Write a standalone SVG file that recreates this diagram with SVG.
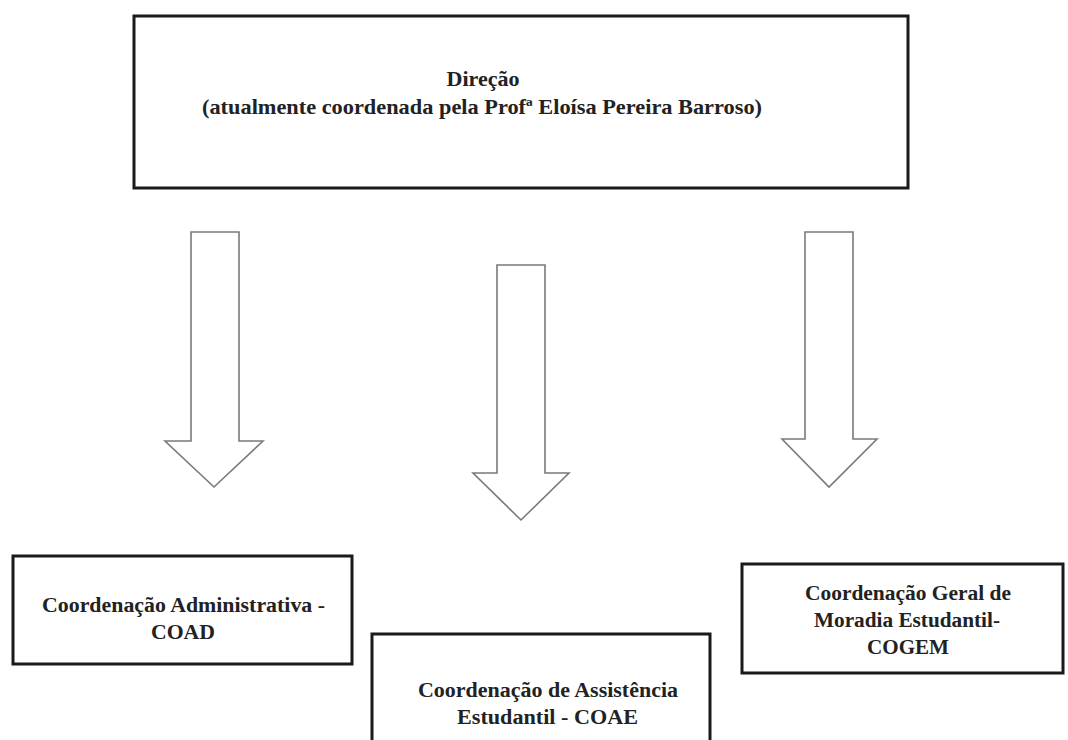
<svg xmlns="http://www.w3.org/2000/svg" width="1068" height="740" viewBox="0 0 1068 740">
<style>
.box{fill:#fff;stroke:#1a1a1a;stroke-width:3}
.arrow{fill:#fff;stroke:#7a7a7a;stroke-width:1.6;stroke-linejoin:miter}
text{font-family:"Liberation Serif","Times New Roman",serif;font-weight:bold;fill:#222;text-anchor:middle}
.t1{font-size:21px}
.t2{font-size:20px}
</style>
<rect width="1068" height="740" fill="#fff"/>
<g id="direcao">
<rect class="box" x="134" y="16" width="774" height="172"/>
<text class="t1" x="483" y="86" textLength="73" lengthAdjust="spacingAndGlyphs">Direção</text>
<text class="t1" x="482" y="114" textLength="560" lengthAdjust="spacingAndGlyphs">(atualmente coordenada pela Profª Eloísa Pereira Barroso)</text>
</g>
<g id="connectors">
<polygon class="arrow" points="191,232 239,232 239,441 263,441 214,487 165,441 191,441"/>
<polygon class="arrow" points="497,265 545,265 545,473 569,473 521,520 473,473 497,473"/>
<polygon class="arrow" points="805,232 853,232 853,439 877,439 829,487 782,439 805,439"/>
</g>
<g id="coad">
<rect class="box" x="13" y="556" width="339" height="108"/>
<text class="t2" x="183.5" y="612" textLength="283" lengthAdjust="spacingAndGlyphs">Coordenação Administrativa -</text>
<text class="t2" x="183" y="639" textLength="64" lengthAdjust="spacingAndGlyphs">COAD</text>
</g>
<g id="coae">
<rect class="box" x="372" y="634" width="338" height="120"/>
<text class="t2" x="548" y="697" textLength="260" lengthAdjust="spacingAndGlyphs">Coordenação de Assistência</text>
<text class="t2" x="547.5" y="724" textLength="181" lengthAdjust="spacingAndGlyphs">Estudantil - COAE</text>
</g>
<g id="cogem">
<rect class="box" x="742" y="564" width="321" height="109"/>
<text class="t2" x="908" y="600" textLength="206" lengthAdjust="spacingAndGlyphs">Coordenação Geral de</text>
<text class="t2" x="907" y="627" textLength="186" lengthAdjust="spacingAndGlyphs">Moradia Estudantil-</text>
<text class="t2" x="908" y="654" textLength="82" lengthAdjust="spacingAndGlyphs">COGEM</text>
</g>
</svg>
